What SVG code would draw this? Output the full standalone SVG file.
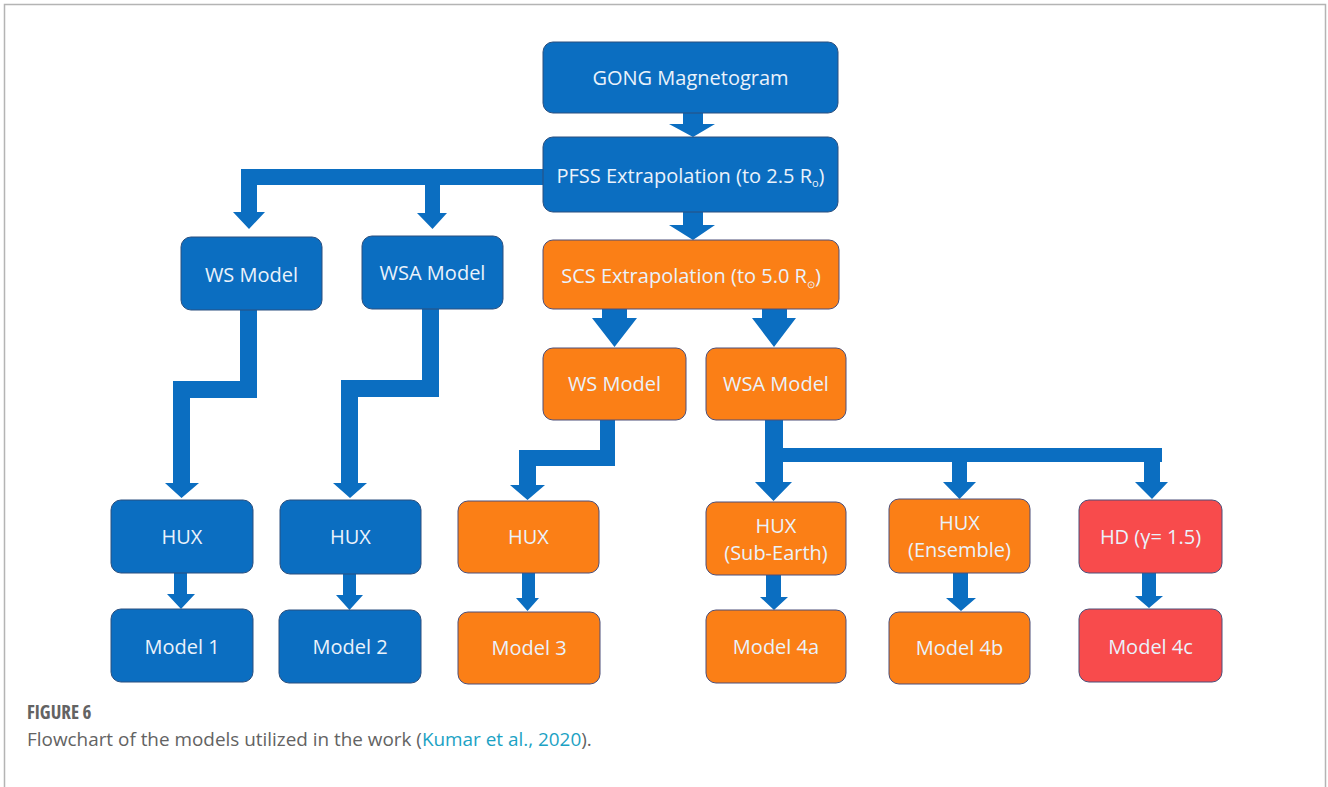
<svg xmlns="http://www.w3.org/2000/svg" width="1328" height="787" viewBox="0 0 1328 787">
<style>
.b{fill:#0b6ec1;stroke:#2b4f7e;stroke-width:1}
.o{fill:#fb7f16;stroke:#4d4f78;stroke-width:1}
.r{fill:#f84b4c;stroke:#4d4f78;stroke-width:1}
.t{font-family:"Open Sans",sans-serif;font-size:20px;fill:#eaf2fb;text-anchor:middle}
.c{fill:#0b6ec1}
.cap{font-family:"Open Sans",sans-serif;font-size:18.9px;fill:#636363}
</style>
<rect width="1328" height="787" fill="#fff"/>
<path d="M4.5,787 V4.5 H1325.5 V787" fill="none" stroke="#b4b4b4" stroke-width="1.5"/>
<g id="connectors" class="c">
<path d="M683,112 H703 V124 H715 L693,137 L669,124 H683 Z"/>
<path d="M683,211 H703 V225 H715 L693,240 L669,225 H683 Z"/>
<path d="M550,169 V185 H440 V213 H447 L432.5,229 L417,213 H425 V185 H257 V212 H265 L249,229 L233,212 H241 V169 Z"/>
<path d="M240,309 H257 V398 H190 V483 H199 L181.5,498 L165,483 H173 V381 H240 Z"/>
<path d="M422,308 H439 V397 H358 V483 H367 L350,498 L333,483 H341 V380 H422 Z"/>
<path d="M174,572 H187 V594 H195 L181,609 L167,594 H174 Z"/>
<path d="M343,572 H356 V595 H363 L349.5,610 L336,595 H343 Z"/>
<path d="M602,308 H627 V318 H637 L614.5,347 L592,318 H602 Z"/>
<path d="M762,308 H787 V318 H796 L774,347 L752,318 H762 Z"/>
<path d="M600,419 H615 V466 H536 V485 H545 L527.5,500 L510,485 H519 V450 H600 Z"/>
<path d="M522,572 H535 V598 H539 L527.5,611 L516,598 H522 Z"/>
<path d="M765,419 H783 V448 H1162 V462 H1160 V482 H1168 L1152,499 L1135,482 H1144 V462 H967 V482 H976 L959.5,499 L943,482 H952 V462 H783 V482 H792 L773.5,501 L755,482 H765 Z"/>
<path d="M766,574 H781 V597 H788 L774,610 L760,597 H766 Z"/>
<path d="M953,572 H968 V598 H976 L961,611 L946,598 H953 Z"/>
<path d="M1142,572 H1156 V596 H1163 L1149,608 L1135,596 H1142 Z"/>
</g>
<g id="gong"><rect class="b" x="543" y="42" width="295" height="71" rx="10"/><text class="t" x="690.5" y="85">GONG Magnetogram</text></g>
<g id="pfss"><rect class="b" x="543" y="137" width="295" height="75" rx="10"/><text class="t" x="690.5" y="183">PFSS Extrapolation (to 2.5 R<tspan font-size="11" dy="4">o</tspan><tspan dy="-4">)</tspan></text></g>
<g id="scs"><rect class="o" x="543" y="240" width="296" height="69" rx="10"/><text class="t" x="691" y="283">SCS Extrapolation (to 5.0 R<tspan font-size="10" dy="5">⊙</tspan><tspan dy="-5">)</tspan></text></g>
<g id="ws-blue"><rect class="b" x="181" y="237" width="141" height="73" rx="10"/><text class="t" x="251.5" y="282">WS Model</text></g>
<g id="wsa-blue"><rect class="b" x="362" y="236" width="141" height="73" rx="10"/><text class="t" x="432.5" y="280">WSA Model</text></g>
<g id="ws-orange"><rect class="o" x="543" y="348" width="143" height="72" rx="10"/><text class="t" x="614.5" y="391">WS Model</text></g>
<g id="wsa-orange"><rect class="o" x="706" y="348" width="140" height="72" rx="10"/><text class="t" x="776" y="391">WSA Model</text></g>
<g id="hux1"><rect class="b" x="111" y="500" width="142" height="73" rx="10"/><text class="t" x="182" y="544">HUX</text></g>
<g id="hux2"><rect class="b" x="280" y="500" width="141" height="74" rx="10"/><text class="t" x="350.5" y="544">HUX</text></g>
<g id="hux3"><rect class="o" x="458" y="501" width="141" height="72" rx="10"/><text class="t" x="528.5" y="544">HUX</text></g>
<g id="hux-subearth"><rect class="o" x="706" y="502" width="140" height="73" rx="10"/><text class="t" x="776" y="533">HUX</text><text class="t" x="776" y="560">(Sub-Earth)</text></g>
<g id="hux-ensemble"><rect class="o" x="889" y="499" width="141" height="74" rx="10"/><text class="t" x="959.5" y="530">HUX</text><text class="t" x="959.5" y="557">(Ensemble)</text></g>
<g id="hd"><rect class="r" x="1079" y="500" width="143" height="73" rx="10"/><text class="t" x="1150.5" y="544">HD (γ= 1.5)</text></g>
<g id="model1"><rect class="b" x="111" y="609" width="142" height="73" rx="10"/><text class="t" x="182" y="654">Model 1</text></g>
<g id="model2"><rect class="b" x="279" y="610" width="142" height="73" rx="10"/><text class="t" x="350" y="654">Model 2</text></g>
<g id="model3"><rect class="o" x="458" y="612" width="142" height="72" rx="10"/><text class="t" x="529" y="655">Model 3</text></g>
<g id="model4a"><rect class="o" x="706" y="610" width="140" height="73" rx="10"/><text class="t" x="776" y="654">Model 4a</text></g>
<g id="model4b"><rect class="o" x="889" y="612" width="141" height="72" rx="10"/><text class="t" x="959.5" y="655">Model 4b</text></g>
<g id="model4c"><rect class="r" x="1079" y="609" width="143" height="73" rx="10"/><text class="t" x="1150.5" y="654">Model 4c</text></g>
<g id="caption">
<text class="cap" x="27" y="719" font-weight="bold" font-size="18" style="font-stretch:condensed" fill="#666">FIGURE 6</text>
<text class="cap" x="27" y="746">Flowchart of the models utilized in the work (<tspan fill="#1ba2c4">Kumar et al., 2020</tspan>).</text>
</g>
</svg>
